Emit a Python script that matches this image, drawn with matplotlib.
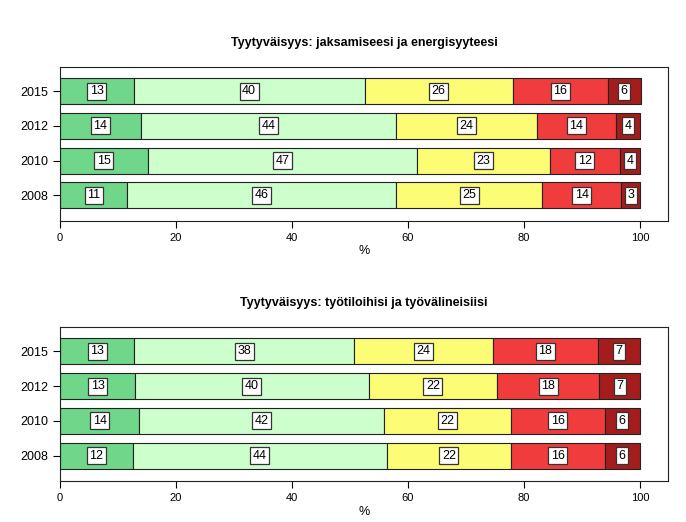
import matplotlib
matplotlib.use("Agg")
import matplotlib.pyplot as plt

years = ["2008", "2010", "2012", "2015"]
colors = ["#6fd68a", "#ccffcc", "#fdfd75", "#f03c3c", "#a51c1c"]

# Tyytyväisyys: jaksamiseesi ja energisyyteesi (per year, categories 1..5)
energy = [
    [11.6, 46.4, 25.1, 13.7, 3.2],   # 2008
    [15.1, 46.5, 22.8, 12.1, 3.5],   # 2010
    [13.9, 44.1, 24.2, 13.7, 4.1],   # 2012
    [12.7, 39.8, 25.6, 16.3, 5.7],   # 2015
]
energy_labels = [
    [11, 46, 25, 14, 3],
    [15, 47, 23, 12, 4],
    [14, 44, 24, 14, 4],
    [13, 40, 26, 16, 6],
]

# Tyytyväisyys: työtiloihisi ja työvälineisiisi
tools = [
    [12.5, 43.8, 21.5, 16.1, 6.1],
    [13.7, 42.2, 21.8, 16.2, 6.1],
    [13.0, 40.2, 22.2, 17.6, 7.0],
    [12.8, 37.9, 24.0, 18.0, 7.3],
]
tools_labels = [
    [12, 44, 22, 16, 6],
    [14, 42, 22, 16, 6],
    [13, 40, 22, 18, 7],
    [13, 38, 24, 18, 7],
]

titles = ["Tyytyväisyys: jaksamiseesi ja energisyyteesi",
          "Tyytyväisyys: työtiloihisi ja työvälineisiisi"]

plt.rcParams["font.family"] = ["Liberation Sans", "DejaVu Sans"]

fig = plt.figure(figsize=(6.86, 5.22), dpi=100, facecolor="white")
ax_top = fig.add_axes([0.0875, 0.577, 0.886, 0.295])
ax_bot = fig.add_axes([0.0875, 0.0785, 0.886, 0.295])


def draw(ax, data, labels, title):
    y = list(range(len(years)))
    left = [0.0] * len(years)
    for k, col in enumerate(colors):
        vals = [row[k] for row in data]
        ax.barh(y, vals, left=left, height=0.75, color=col,
                edgecolor="#222222", linewidth=0.8)
        for i, v in enumerate(vals):
            ax.text(left[i] + v / 2, y[i], str(labels[i][k]), ha="center", va="center",
                    fontsize=9,
                    bbox=dict(boxstyle="square,pad=0.2", facecolor="white",
                              edgecolor="#333333", linewidth=0.9))
        left = [a + b for a, b in zip(left, vals)]

    ax.set_xlim(0, 104.8)
    ax.set_ylim(-0.73, 3.7)
    ax.set_yticks(y)
    ax.set_yticklabels(years, fontsize=9)
    ax.set_xticks([0, 20, 40, 60, 80, 100])
    ax.tick_params(axis="both", direction="out", length=5, width=0.8, labelsize=8)
    ax.tick_params(axis="y", labelsize=9)
    ax.set_xlabel("%", fontsize=9, labelpad=2)
    for s in ax.spines.values():
        s.set_color("#222222")
        s.set_linewidth(0.8)
    ax.set_title(title, fontsize=9, fontweight="bold", pad=15)


draw(ax_top, energy, energy_labels, titles[0])
draw(ax_bot, tools, tools_labels, titles[1])

fig.savefig("out.png", dpi=100, facecolor="white")
